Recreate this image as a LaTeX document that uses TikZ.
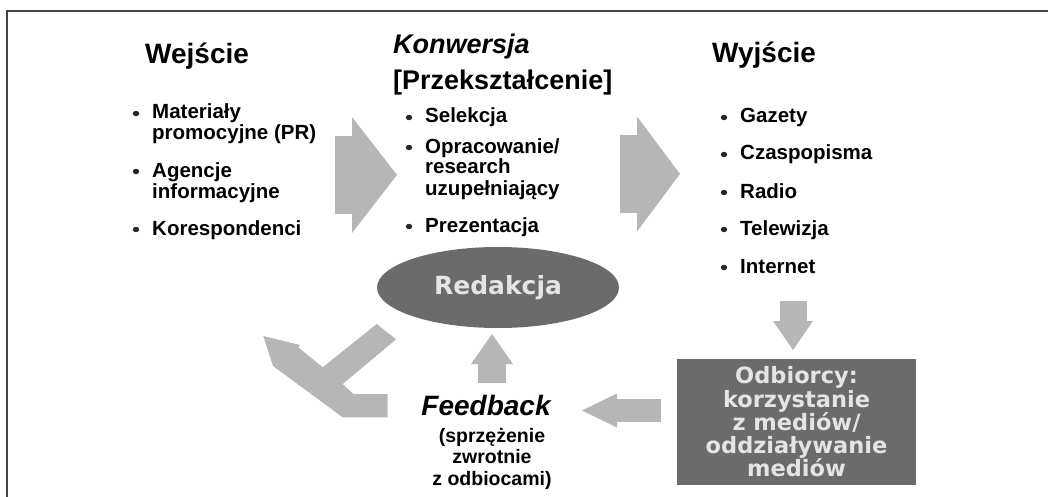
\documentclass[tikz,border=0pt]{standalone}
\usepackage{fontspec}
\setmainfont{Liberation Sans}
\newfontfamily\boxfont{DejaVu Sans}
\usetikzlibrary{arrows.meta,shapes.geometric,calc}

\definecolor{arrowgray}{RGB}{182,182,182}
\definecolor{boxgray}{RGB}{107,107,107}
\definecolor{boxtext}{RGB}{228,228,228}
\definecolor{framegray}{RGB}{68,68,68}

\tikzset{
  heading/.style={anchor=base west, inner sep=0pt, font=\fontsize{28}{30}\selectfont\bfseries},
  entry/.style={anchor=base west, inner sep=0pt, align=left, font=\fontsize{20.5}{21}\selectfont\bfseries},
  note/.style={anchor=base, inner sep=0pt, align=center, font=\fontsize{19.5}{21.5}\selectfont\bfseries},
  darkbox/.style={fill=boxgray, text=boxtext, inner sep=0pt, align=center},
  bigarrow/.style={draw=arrowgray, fill=arrowgray}
}

\begin{document}
\begin{tikzpicture}[x=1pt, y=-1pt]
\useasboundingbox (0,0) rectangle (1048,497);
\draw[framegray, line width=2.5pt] (7,497) -- (7,11) -- (1048,11);

% column headings
\node[heading] (wej) at (145,64) {Wejście};
\node[heading, font=\fontsize{27}{30}\selectfont\bfseries\itshape] (konw) at (393,54) {Konwersja};
\node[heading, font=\fontsize{27}{30}\selectfont\bfseries] (prz) at (393,90) {[Przekształcenie]};
\node[heading] (wyj) at (712,63) {Wyjście};

% input (base = last line)
\node[entry] (we1) at (152,140) {Materiały\\promocyjne (PR)};
\node[entry] (we2) at (152,198) {Agencje\\informacyjne};
\node[entry] (we3) at (152,235) {Korespondenci};

% conversion
\node[entry] (ko1) at (425,123) {Selekcja};
\node[entry] (ko2) at (425,195) {Opracowanie/\\research\\uzupełniający};
\node[entry] (ko3) at (425,232) {Prezentacja};

% output
\node[entry] (wy1) at (740,123) {Gazety};
\node[entry] (wy2) at (740,160) {Czaspopisma};
\node[entry] (wy3) at (740,198) {Radio};
\node[entry] (wy4) at (740,235) {Telewizja};
\node[entry] (wy5) at (740,273) {Internet};

\foreach \n/\k in {we1/1,we2/1,we3/0,ko1/0,ko2/2,ko3/0,wy1/0,wy2/0,wy3/0,wy4/0,wy5/0}
  \fill[black!85] ($(\n.base west)+(-16,-5.5-21*\k)$) ellipse (3.2 and 2.7);

% editorial office and audience
\node[darkbox, ellipse, minimum width=242, minimum height=81,
      font=\boxfont\fontsize{25}{27}\selectfont\bfseries] (red) at (498,287.5) {Redakcja};
\node[darkbox, rectangle, minimum width=239, minimum height=126,
      font=\boxfont\fontsize{22.5}{23.3}\selectfont\bfseries] (odb) at (796.5,422)
      {Odbiorcy:\\korzystanie\\z mediów/\\oddziaływanie\\mediów};

% feedback
\node[anchor=base, inner sep=0pt, font=\fontsize{28}{30}\selectfont\bfseries\itshape] (fb) at (486,415) {Feedback};
\node[note] (fbn) at (492,485) {(sprzężenie\\zwrotnie\\z odbiocami)};

% arrows
\coordinate (a1) at (335,175);
\coordinate (a2) at (397,175);
\coordinate (b1) at (620,174);
\coordinate (b2) at (680,174);
\coordinate (c1) at (793,301);
\coordinate (c2) at (793,350);
\coordinate (d1) at (661,410.5);
\coordinate (d2) at (582,410.5);
\coordinate (e1) at (492,383);
\coordinate (e2) at (492,334);

\draw[draw=arrowgray, line width=78pt, -{Triangle[length=45pt,width=116pt,line width=0pt,fill=arrowgray]}] (a1) -- (a2);
\draw[draw=arrowgray, line width=78pt, -{Triangle[length=43pt,width=115pt,line width=0pt,fill=arrowgray]}] (b1) -- (b2);
\draw[draw=arrowgray, line width=27pt, -{Triangle[length=29pt,width=40pt,line width=0pt,fill=arrowgray]}] (c1) -- (c2);
\draw[draw=arrowgray, line width=23pt, -{Triangle[length=35pt,width=34pt,line width=0pt,fill=arrowgray]}] (d1) -- (d2);
\draw[draw=arrowgray, line width=28pt, -{Triangle[length=30pt,width=42pt,line width=0pt,fill=arrowgray]}] (e1) -- (e2);

% bent arrow back to the input
\fill[arrowgray] (263.3,336) -- (300,345) -- (298.3,347.3) -- (322.7,367.3)
  -- (376.7,324) -- (396,339.3) -- (342.7,384) -- (353.3,394)
  -- (387.7,394) -- (387.7,417.3) -- (342.7,417.3) -- (273,366) -- cycle;
\end{tikzpicture}
\end{document}
